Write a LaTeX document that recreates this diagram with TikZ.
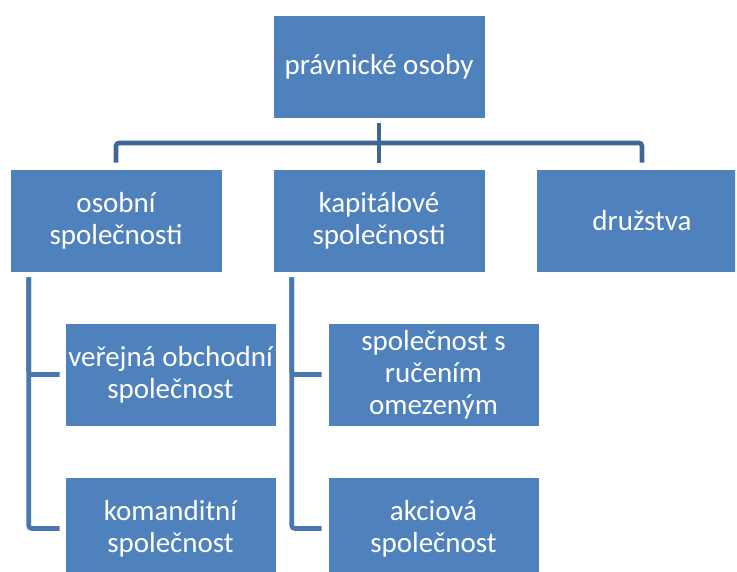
\documentclass[tikz,border=0pt]{standalone}
\usepackage{fontspec}
\setmainfont{Carlito}
\usepackage{tikz}
\usetikzlibrary{arrows}

\definecolor{boxblue}{RGB}{79,129,189}
\definecolor{barblue}{RGB}{63,103,150}
\definecolor{legblue}{RGB}{74,120,174}

\begin{document}
\begin{tikzpicture}[x=1pt, y=-1pt,
  box/.style={fill=boxblue, draw=white, line width=0.6pt, text=white, align=center,
    minimum width=212pt, minimum height=103pt, inner sep=0pt,
    font=\fontsize{29}{32}\selectfont},
  bar/.style={draw=barblue, line width=4.6pt, rounded corners=3pt},
  leg/.style={draw=legblue, line width=4.6pt, rounded corners=3pt}]
\useasboundingbox (0,0) rectangle (737,572);
\clip (0,0) rectangle (735,572);

\node (po) at (379,66.5) [box] {právnické osoby};
\node (os) at (116,220.5) [box] {osobní\\společnosti};
\node (ks) at (379,220.5) [box] {kapitálové\\společnosti};
\node (dr) at (642,220.5) [box] {družstva};
\node (vos) at (170.5,374.5) [box, minimum width=211pt] {veřejná obchodní\\společnost};
\node (ko) at (170.5,528.5) [box, minimum width=211pt] {komanditní\\společnost};
\node (sro) at (433.5,374.5) [box, minimum width=211pt] {společnost s\\ručením\\omezeným};
\node (as) at (433.5,528.5) [box, minimum width=211pt] {akciová\\společnost};

\coordinate (mid) at (379,143);

\draw [bar] ([yshift=-5pt]po.south) -- ([yshift=6pt]ks.north);
\draw [bar] ([yshift=6pt]os.north) |- (mid) -| ([yshift=6pt]dr.north);

\draw [leg] ([xshift=19pt,yshift=-5pt]os.south west) |- ([xshift=-5pt]vos.west);
\draw [leg] ([xshift=19pt,yshift=-5pt]os.south west) |- ([xshift=-5pt]ko.west);
\draw [leg] ([xshift=19pt,yshift=-5pt]ks.south west) |- ([xshift=-6pt]sro.west);
\draw [leg] ([xshift=19pt,yshift=-5pt]ks.south west) |- ([xshift=-6pt]as.west);
\end{tikzpicture}
\end{document}
